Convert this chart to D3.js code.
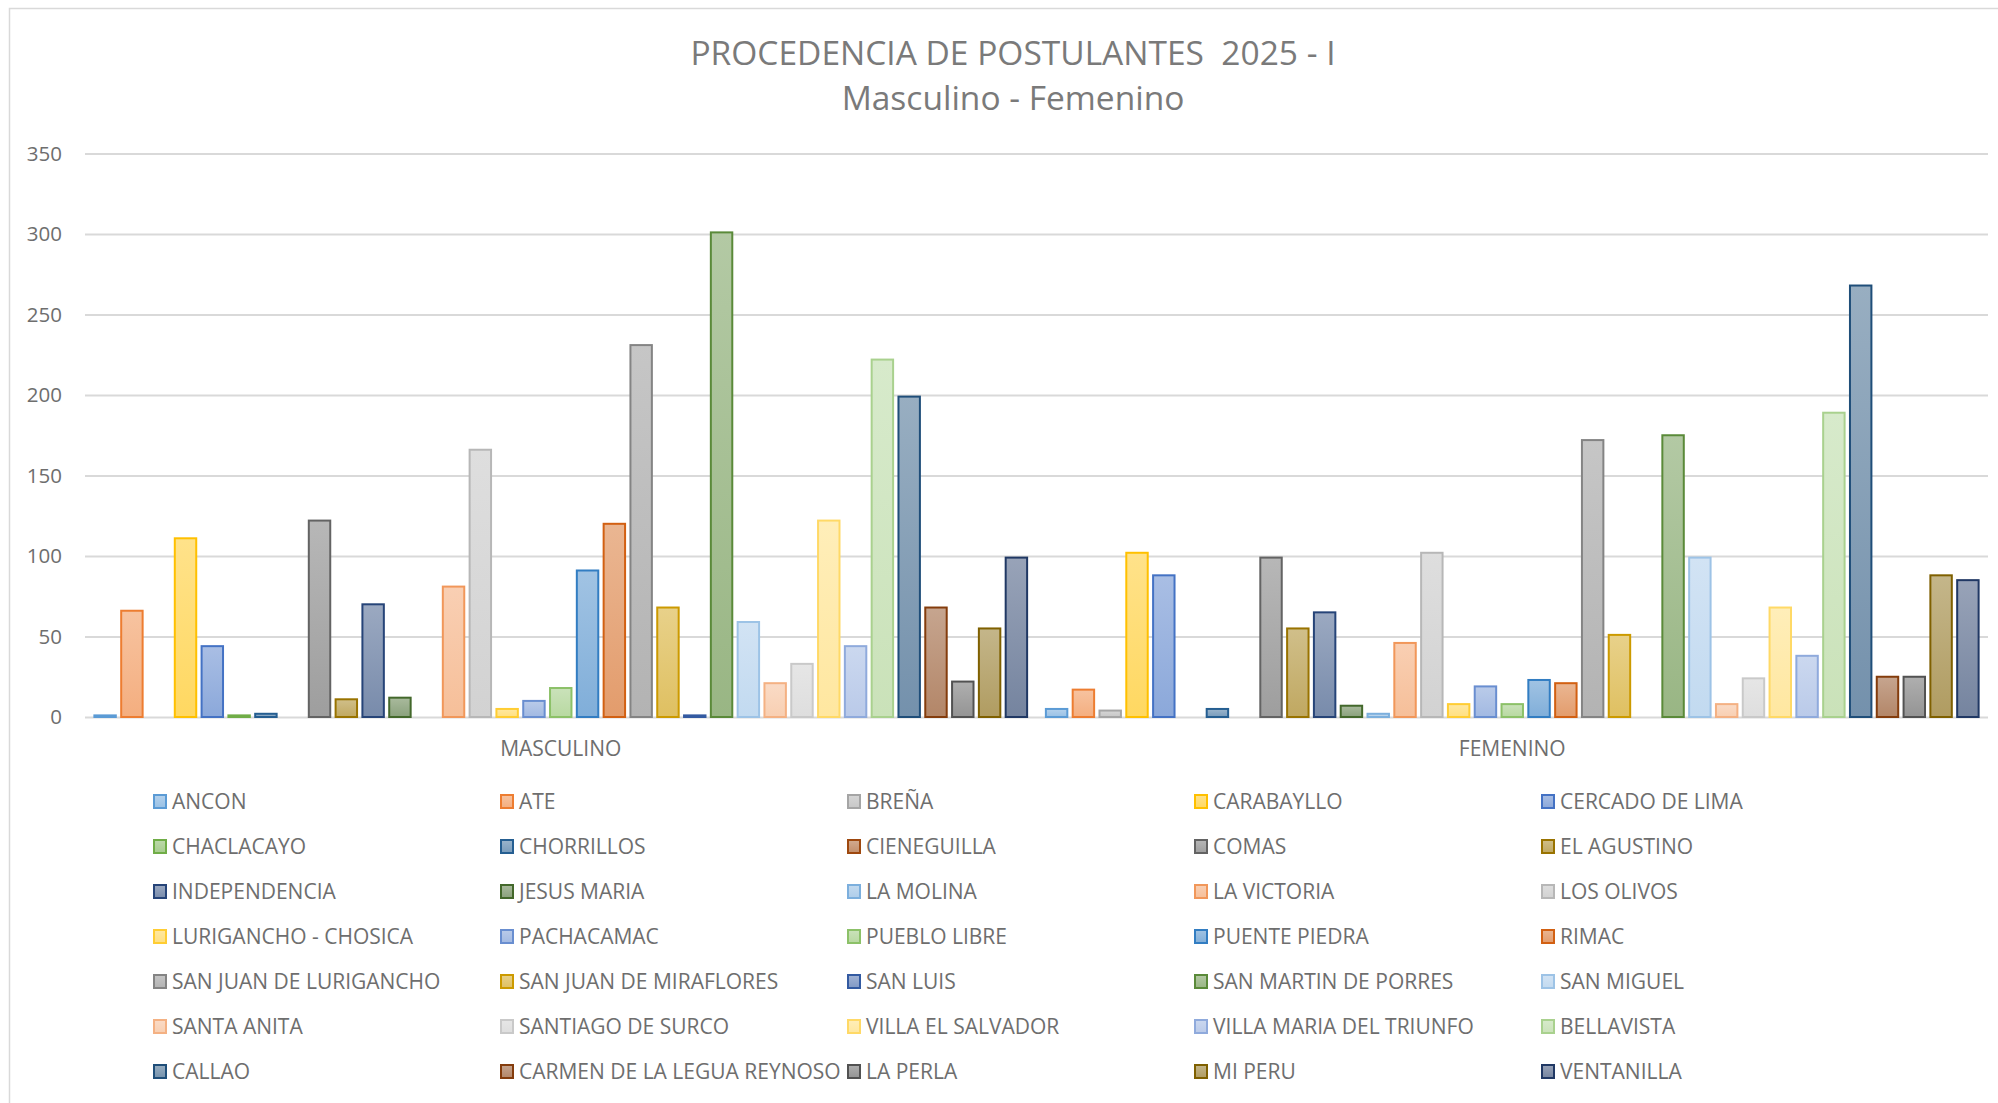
<!DOCTYPE html>
<html>
<head>
<meta charset="utf-8">
<script src="https://cdn.jsdelivr.net/npm/d3@7"></script>
<style>
  body { margin: 0; background: #fff; }
  text { font-family: 'Open Sans', sans-serif; fill: #6E6E6E; }
</style>
</head>
<body>
<script>
const sexos = ['MASCULINO', 'FEMENINO'];

const distritos = [
  'ANCON', 'ATE', 'BREÑA', 'CARABAYLLO', 'CERCADO DE LIMA',
  'CHACLACAYO', 'CHORRILLOS', 'CIENEGUILLA', 'COMAS', 'EL AGUSTINO',
  'INDEPENDENCIA', 'JESUS MARIA', 'LA MOLINA', 'LA VICTORIA', 'LOS OLIVOS',
  'LURIGANCHO - CHOSICA', 'PACHACAMAC', 'PUEBLO LIBRE', 'PUENTE PIEDRA', 'RIMAC',
  'SAN JUAN DE LURIGANCHO', 'SAN JUAN DE MIRAFLORES', 'SAN LUIS', 'SAN MARTIN DE PORRES', 'SAN MIGUEL',
  'SANTA ANITA', 'SANTIAGO DE SURCO', 'VILLA EL SALVADOR', 'VILLA MARIA DEL TRIUNFO', 'BELLAVISTA',
  'CALLAO', 'CARMEN DE LA LEGUA REYNOSO', 'LA PERLA', 'MI PERU', 'VENTANILLA'
];

const masculino = [1, 66, 0, 111, 44, 1, 2, 0, 122, 11, 70, 12, 0, 81, 166, 5, 10, 18, 91, 120,
  231, 68, 1, 301, 59, 21, 33, 122, 44, 222, 199, 68, 22, 55, 99];

const femenino = [5, 17, 4, 102, 88, 0, 5, 0, 99, 55, 65, 7, 2, 46, 102, 8, 19, 8, 23, 21,
  172, 51, 0, 175, 99, 8, 24, 68, 38, 189, 268, 25, 25, 88, 85];

const colores = [
  '#5B9BD5', '#ED7D31', '#A5A5A5', '#FFC000', '#4472C4', '#70AD47',
  '#255E91', '#9E480E', '#636363', '#997300', '#264478', '#43682B',
  '#7CAFDD', '#F1975A', '#B7B7B7', '#FFCD33', '#698ED0', '#8CC168',
  '#327DC2', '#D26012', '#848484', '#CC9A00', '#335AA1', '#5A8A39',
  '#9DC3E6', '#F4B183', '#C9C9C9', '#FFD966', '#8FAADC', '#A9D18E',
  '#1F4E79', '#843C0C', '#525252', '#7F6000', '#203864'
];

const yTicks = [0, 50, 100, 150, 200, 250, 300, 350];

const width = 1998, height = 1103;
const plot = { left: 85, right: 1988, top: 153.5, bottom: 717 };

const svg = d3.select('body')
  .append('svg')
    .attr('width', width)
    .attr('height', height);

// gradient fills, light at the top
const defs = svg.append('defs');
colores.forEach(function(c, i) {
  var g = defs.append('linearGradient')
    .attr('id', 'grad' + i)
    .attr('x1', 0).attr('y1', 0)
    .attr('x2', 0).attr('y2', 1);
  g.append('stop').attr('offset', '0%').attr('stop-color', d3.interpolateRgb(c, '#fff')(0.54));
  g.append('stop').attr('offset', '100%').attr('stop-color', d3.interpolateRgb(c, '#fff')(0.38));
});

svg.append('rect')
  .attr('x', 9.5)
  .attr('y', 8.5)
  .attr('width', 2100)
  .attr('height', 2100)
  .attr('fill', 'none')
  .attr('stroke', '#D9D9D9')
  .attr('stroke-width', 1.5);

// title
svg.append('text')
  .attr('x', 1013)
  .attr('y', 65)
  .attr('text-anchor', 'middle')
  .style('font-size', '33.5px')
  .style('white-space', 'pre')
  .style('fill', '#7A7A7A')
  .text('PROCEDENCIA DE POSTULANTES  2025 - I');

svg.append('text')
  .attr('x', 1013)
  .attr('y', 110)
  .attr('text-anchor', 'middle')
  .style('font-size', '33.5px')
  .style('fill', '#7A7A7A')
  .text('Masculino - Femenino');

const y = d3.scaleLinear()
  .domain([0, 350])
  .range([plot.bottom, plot.top]);

const x0 = d3.scaleBand()
  .domain(sexos)
  .range([plot.left, plot.right]);

const x1 = d3.scaleBand()
  .domain(distritos)
  .range([0, x0.bandwidth()])
  .paddingInner(0.2)
  .paddingOuter(0.35);

// gridlines and tick labels
const yAxis = svg.append('g')
  .attr('transform', 'translate(' + plot.left + ',0)')
  .call(d3.axisLeft(y)
    .tickValues(yTicks)
    .tickSize(-(plot.right - plot.left))
    .tickPadding(23));

yAxis.select('.domain').remove();
yAxis.selectAll('.tick line')
  .attr('stroke', '#D9D9D9')
  .attr('stroke-width', 2);
yAxis.selectAll('.tick text')
  .style('font-size', '20.5px')
  .style('font-family', "'Open Sans', sans-serif")
  .attr('fill', '#6E6E6E');

const data = sexos.map(function(s, si) {
  var vals = si === 0 ? masculino : femenino;
  return {
    sexo: s,
    items: distritos.map(function(d, i) { return { distrito: d, valor: vals[i], idx: i }; })
  };
});

const groups = svg.append('g')
  .selectAll('g')
  .data(data)
  .join('g')
    .attr('transform', (d) => 'translate(' + x0(d.sexo) + ',0)');

groups.selectAll('rect')
  .data((d) => d.items.filter((it) => it.valor > 0))
  .join('rect')
    .attr('x', (d) => x1(d.distrito))
    .attr('y', (d) => y(d.valor))
    .attr('width', x1.bandwidth())
    .attr('height', (d) => y(0) - y(d.valor))
    .attr('fill', (d) => 'url(#grad' + d.idx + ')')
    .attr('stroke', (d) => colores[d.idx])
    .attr('stroke-width', 2);

// category labels
svg.append('g')
  .selectAll('text')
  .data(sexos)
  .join('text')
    .attr('x', (d) => x0(d) + x0.bandwidth() / 2)
    .attr('y', 756)
    .attr('text-anchor', 'middle')
    .style('font-size', '21px')
    .text((d) => d);

// legend, 5 columns
const legendCols = 5;
const legend = svg.append('g')
  .selectAll('g')
  .data(distritos)
  .join('g')
    .attr('transform', function(d, i) {
      var col = i % legendCols, row = Math.floor(i / legendCols);
      return 'translate(' + (153 + col * 347) + ',' + (801.5 + row * 45) + ')';
    });

legend.append('rect')
  .attr('x', 1)
  .attr('y', -6.5)
  .attr('width', 12)
  .attr('height', 13)
  .attr('fill', (d, i) => 'url(#grad' + i + ')')
  .attr('stroke', (d, i) => colores[i])
  .attr('stroke-width', 2);

legend.append('text')
  .attr('x', 19)
  .attr('y', 7.5)
  .style('font-size', '21px')
  .text((d) => d);
</script>
</body>
</html>
